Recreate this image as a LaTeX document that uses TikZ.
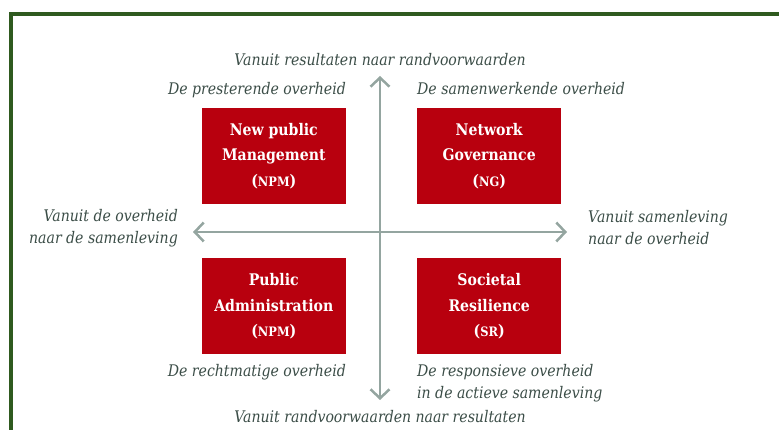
\documentclass[tikz,border=0pt]{standalone}
\usepackage{fontspec}
\setmainfont{DejaVu Serif}[FakeStretch=0.88]
\usetikzlibrary{arrows.meta,calc,positioning}
\definecolor{quadred}{HTML}{B8000E}
\definecolor{lblgreen}{HTML}{3B4D47}
\definecolor{axisgray}{HTML}{94A5A0}
\definecolor{framegreen}{HTML}{2F5A1F}
\newcommand{\quadabbr}[1]{{\fontsize{13}{14}\selectfont #1}}
\tikzstyle{quad}=[fill=quadred,text=white,minimum width=144pt,minimum height=96pt,inner sep=0pt,align=center,font=\bfseries\fontsize{16}{25.5}\selectfont]
\tikzstyle{lbl}=[text=lblgreen,inner sep=0pt,font=\itshape\fontsize{16}{22}\selectfont]
\tikzstyle{axis}=[draw=axisgray,line width=2.5pt,{Straight Barb[length=9pt,width=19pt]}-{Straight Barb[length=9pt,width=19pt]}]

\begin{document}
\begin{tikzpicture}[x=1pt,y=1pt]
    \useasboundingbox (0,0) rectangle (779,430);
    \begin{scope}
      \clip (0,0) rectangle (779,430);
      \draw[framegreen,line width=4pt] (11,416) rectangle (800,-20);
    \end{scope}

    \coordinate (c) at (380,198);
    \coordinate (ntop) at (380,354);
    \coordinate (nbot) at (380,30);
    \coordinate (nleft) at (193,198);
    \coordinate (nright) at (567,198);
    \draw[axis] (nbot) -- (ntop);
    \draw[axis] (nleft) -- (nright);

    \node [quad] (npm) [above left=28pt and 34pt of c] {New public\\Management\\(\quadabbr{NPM})};
    \node [quad] (ng)  [above right=28pt and 37pt of c] {Network\\Governance\\(\quadabbr{NG})};
    \node [quad] (pa)  [below left=26pt and 34pt of c] {Public\\Administration\\(\quadabbr{NPM})};
    \node [quad] (sr)  [below right=26pt and 37pt of c] {Societal\\Resilience\\(\quadabbr{SR})};

    \node [lbl,anchor=base] (ttop) at ([yshift=10pt]ntop) {Vanuit resultaten naar randvoorwaarden};
    \node [lbl,anchor=base] (tbot) at ([yshift=-23pt]nbot) {Vanuit randvoorwaarden naar resultaten};
    \node [lbl,anchor=base east] (lpres) at ([yshift=13pt]npm.north east) {De presterende overheid};
    \node [lbl,anchor=base west] (lsam) at ([yshift=13pt]ng.north west) {De samenwerkende overheid};
    \node [lbl,anchor=base east] (lrecht) at ([yshift=-22pt]pa.south east) {De rechtmatige overheid};
    \node [lbl,anchor=north west,align=left] (lresp) at ([yshift=-10pt]sr.south west) {De responsieve overheid\\in de actieve samenleving};
    \node [lbl,anchor=east,align=right] (lleft) at ([xshift=-15pt,yshift=4pt]nleft) {Vanuit de overheid\\naar de samenleving};
    \node [lbl,anchor=west,align=left] (lright) at ([xshift=21pt,yshift=4pt]nright) {Vanuit samenleving\\naar de overheid};
\end{tikzpicture}
\end{document}
